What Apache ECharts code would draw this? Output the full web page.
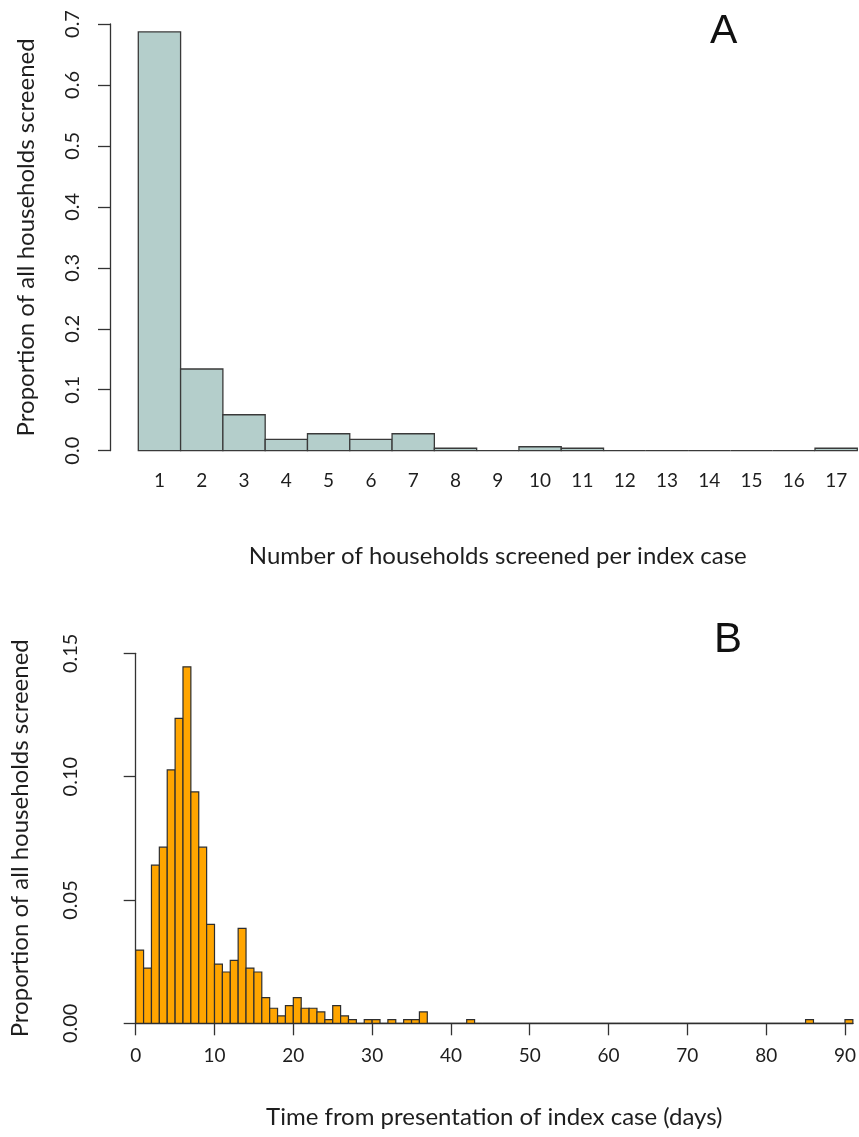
<!DOCTYPE html>
<html><head><meta charset="utf-8">
<script src="https://cdn.jsdelivr.net/npm/echarts@6/dist/echarts.min.js"></script>
<style>html,body{margin:0;padding:0;background:#fff}#c{width:859px;height:1137px}</style>
</head><body><div id="c"></div>
<script>
// Panel A: number of households screened per index case
const householdCounts = ['1','2','3','4','5','6','7','8','9','10','11','12','13','14','15','16','17'];
const householdProportions = [0.687, 0.134, 0.059, 0.0187, 0.0278, 0.0187, 0.0278, 0.004, 0, 0.0065, 0.004, 0, 0, 0, 0, 0, 0.004];
const yTicksA = [0, 0.1, 0.2, 0.3, 0.4, 0.5, 0.6, 0.7];

// Panel B: time from presentation of index case, 1-day bins starting at day 0
const dayProportions = [
  0.0297, 0.0224, 0.0641, 0.0714, 0.1027, 0.1236, 0.1445, 0.0938, 0.0714, 0.0401,
  0.0240, 0.0208, 0.0255, 0.0385, 0.0224, 0.0208, 0.0104, 0.0061, 0.0030, 0.0072,
  0.0104, 0.0061, 0.0061, 0.0046, 0.0015, 0.0072, 0.0030, 0.0015, 0, 0.0015,
  0.0015, 0, 0.0015, 0, 0.0015, 0.0015, 0.0046, 0, 0, 0,
  0, 0, 0.0015, 0, 0, 0, 0, 0, 0, 0,
  0, 0, 0, 0, 0, 0, 0, 0, 0, 0,
  0, 0, 0, 0, 0, 0, 0, 0, 0, 0,
  0, 0, 0, 0, 0, 0, 0, 0, 0, 0,
  0, 0, 0, 0, 0, 0.0015, 0, 0, 0, 0,
  0.0015
];
const dayTicks = [0, 10, 20, 30, 40, 50, 60, 70, 80, 90];
const yTicksB = [0, 0.05, 0.10, 0.15];

const FONT = 'Lato';
const INK = '#1e1e1e';
const LINE = '#333333';

const chart = echarts.init(document.getElementById('c'), null, {renderer: 'canvas'});

const dataA = householdProportions.map((v, i) => [i, v]);
const dataB = dayProportions.map((v, i) => [i, i + 1, v]);

chart.setOption({
  backgroundColor: '#ffffff',
  animation: false,
  title: [
    {text: 'A', left: 705, top: 6, textStyle: {fontFamily: 'Liberation Sans', fontSize: 41, fontWeight: 'normal', color: '#111'}},
    {text: 'B', left: 709, top: 614, textStyle: {fontFamily: 'Liberation Sans', fontSize: 42, fontWeight: 'normal', color: '#111'}}
  ],
  grid: [
    {left: 138.3, top: 24, width: 719, height: 426.7},
    {left: 135.7, top: 653.3, width: 719, height: 370}
  ],
  xAxis: [
    {
      gridIndex: 0, type: 'category', data: householdCounts,
      axisLine: {show: false}, axisTick: {show: false},
      axisLabel: {margin: 21, fontFamily: FONT, fontSize: 19, color: INK},
      name: 'Number of households screened per index case',
      nameLocation: 'middle', nameGap: 94,
      nameTextStyle: {fontFamily: FONT, fontSize: 24, color: INK},
      splitLine: {show: false}
    },
    {
      gridIndex: 1, type: 'value', min: 0, max: 91, interval: 10,
      axisLine: {show: true, lineStyle: {color: LINE, width: 1.3}},
      axisTick: {show: true, length: 12, customValues: dayTicks, lineStyle: {color: LINE, width: 1.3}},
      axisLabel: {margin: 23, fontFamily: FONT, fontSize: 19, color: INK, customValues: dayTicks},
      name: 'Time from presentation of index case (days)',
      nameLocation: 'middle', nameGap: 82,
      nameTextStyle: {fontFamily: FONT, fontSize: 24, color: INK},
      splitLine: {show: false}
    }
  ],
  yAxis: [
    {
      gridIndex: 0, type: 'value', min: 0, max: 0.7, interval: 0.1, offset: 28.3,
      axisLine: {show: true, lineStyle: {color: LINE, width: 1.3}},
      axisTick: {show: true, length: 12, lineStyle: {color: LINE, width: 1.3}},
      axisLabel: {rotate: 90, margin: 27, fontFamily: FONT, fontSize: 20, color: INK,
        customValues: yTicksA, formatter: v => v.toFixed(1)},
      name: 'Proportion of all households screened',
      nameLocation: 'middle', nameRotate: 90, nameGap: 72,
      nameTextStyle: {fontFamily: FONT, fontSize: 24, color: INK},
      splitLine: {show: false}
    },
    {
      gridIndex: 1, type: 'value', min: 0, max: 0.15, interval: 0.05, offset: 28.4,
      axisLine: {show: true, lineStyle: {color: LINE, width: 1.3}},
      axisTick: {show: true, length: 12, lineStyle: {color: LINE, width: 1.3}},
      axisLabel: {rotate: 90, margin: 27, fontFamily: FONT, fontSize: 20, color: INK,
        customValues: yTicksB, formatter: v => v.toFixed(2)},
      name: 'Proportion of all households screened',
      nameLocation: 'middle', nameRotate: 90, nameGap: 75,
      nameTextStyle: {fontFamily: FONT, fontSize: 24, color: INK},
      splitLine: {show: false}
    }
  ],
  series: [
    {
      type: 'custom', xAxisIndex: 0, yAxisIndex: 0, data: dataA,
      encode: {x: 0, y: 1},
      renderItem: function (params, api) {
        const idx = api.value(0);
        const top = api.coord([idx, api.value(1)]);
        const base = api.coord([idx, 0]);
        const w = api.size([1, 0])[0];
        return {type: 'rect', shape: {x: top[0] - w / 2, y: top[1], width: w, height: base[1] - top[1]},
          style: {fill: '#b4cecb', stroke: '#3a3a3a', lineWidth: 1.3}};
      }
    },
    {
      type: 'custom', xAxisIndex: 1, yAxisIndex: 1, data: dataB,
      encode: {x: [0, 1], y: 2},
      renderItem: function (params, api) {
        const p0 = api.coord([api.value(0), api.value(2)]);
        const p1 = api.coord([api.value(1), 0]);
        return {type: 'rect', shape: {x: p0[0], y: p0[1], width: p1[0] - p0[0], height: p1[1] - p0[1]},
          style: {fill: '#ffa500', stroke: '#2e2e2e', lineWidth: 1.2}};
      }
    }
  ]
});
</script>
</body></html>
